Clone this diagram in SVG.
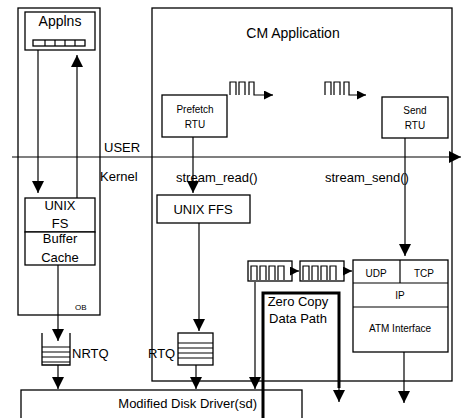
<svg xmlns="http://www.w3.org/2000/svg" width="463" height="418" viewBox="0 0 463 418">
<defs>
<style>
.b{fill:#fff;stroke:#000;stroke-width:1.3}
.n{fill:none;stroke:#000;stroke-width:1.3}
.l{fill:none;stroke:#000;stroke-width:1.2}
.k{fill:none;stroke:#000;stroke-width:3}
.t{font-family:"Liberation Sans",Arial,sans-serif;fill:#000}
</style>
<marker id="ah" viewBox="0 0 10 10" refX="10" refY="5" markerWidth="9" markerHeight="9" markerUnits="userSpaceOnUse" orient="auto">
<path d="M0,0 L10,5 L0,10 Z" fill="#000"/>
</marker>
<marker id="ahb" viewBox="0 0 10 10" refX="10" refY="5" markerWidth="12" markerHeight="12" markerUnits="userSpaceOnUse" orient="auto">
<path d="M0,0 L10,5 L0,10 Z" fill="#000"/>
</marker>
</defs>
<rect width="463" height="418" fill="#fff"/>

<g id="user-process">
<rect class="n" x="18" y="8" width="82" height="307"/>
<text class="t" x="75" y="310" font-size="8">OB</text>
</g>
<g id="applns">
<rect class="b" x="25" y="12" width="70" height="38"/>
<text class="t" x="60" y="26" font-size="14" text-anchor="middle">Applns</text>
<rect class="n" x="33" y="40" width="52" height="6"/>
<path class="l" d="M45,40 V46 M55,40 V46 M65,40 V46 M75,40 V46"/>
</g>
<g id="unix-fs">
<rect class="b" x="25" y="198" width="70" height="34"/>
<text class="t" x="60" y="210" font-size="13" text-anchor="middle">UNIX</text>
<text class="t" x="60" y="228" font-size="13" text-anchor="middle">FS</text>
</g>
<g id="buffer-cache">
<rect class="b" x="25" y="232" width="70" height="33"/>
<text class="t" x="60" y="243" font-size="13" text-anchor="middle">Buffer</text>
<text class="t" x="60" y="262" font-size="13" text-anchor="middle">Cache</text>
</g>

<g id="cm-application">
<rect class="n" x="152" y="8" width="300" height="373"/>
<text class="t" x="293" y="38" font-size="14" text-anchor="middle">CM Application</text>
</g>
<g id="prefetch-rtu">
<rect class="b" x="162" y="95" width="65" height="42"/>
<text class="t" x="195" y="113" font-size="10" text-anchor="middle">Prefetch</text>
<text class="t" x="195" y="128" font-size="10" text-anchor="middle">RTU</text>
</g>
<g id="send-rtu">
<rect class="b" x="382" y="97" width="66" height="41"/>
<text class="t" x="415" y="114" font-size="10" text-anchor="middle">Send</text>
<text class="t" x="415" y="129" font-size="10" text-anchor="middle">RTU</text>
</g>
<g id="unix-ffs">
<rect class="b" x="157" y="195" width="93" height="28"/>
<text class="t" x="203" y="214" font-size="13" text-anchor="middle">UNIX FFS</text>
</g>
<g id="protocol-stack">
<rect class="b" x="353" y="260" width="95" height="92"/>
<path class="l" d="M353,283 H448 M353,307 H448 M400,260 V283"/>
<text class="t" x="376" y="277" font-size="10" text-anchor="middle">UDP</text>
<text class="t" x="424" y="277" font-size="10" text-anchor="middle">TCP</text>
<text class="t" x="400" y="299" font-size="10" text-anchor="middle">IP</text>
<text class="t" x="400" y="332" font-size="10" text-anchor="middle">ATM Interface</text>
</g>
<g id="nrtq">
<path class="n" d="M42,333 V365 H70 V333"/>
<path class="l" d="M42,347 H70 M42,352 H70 M42,357 H70 M42,362 H70"/>
<text class="t" x="72" y="358" font-size="13">NRTQ</text>
</g>
<g id="rtq">
<rect class="n" x="178" y="333" width="35" height="32"/>
<path class="l" d="M178,343 H213 M178,348 H213 M178,353 H213 M178,358 H213"/>
<text class="t" x="148" y="358" font-size="13">RTQ</text>
</g>
<g id="disk-driver">
<rect class="b" x="21" y="390" width="281" height="32"/>
<text class="t" x="257" y="408" font-size="13" text-anchor="end">Modified Disk Driver(sd)</text>
</g>
<g id="zero-copy">
<rect class="n" x="248" y="261" width="44" height="20" stroke-width="2"/>
<path class="l" d="M251,280 V266 H257 V280 M260,280 V266 H266 V280 M269,280 V266 H275 V280 M278,280 V266 H284 V280"/>
<rect class="n" x="300" y="261" width="44" height="20" stroke-width="2"/>
<path class="l" d="M303,280 V266 H309 V280 M312,280 V266 H318 V280 M321,280 V266 H327 V280 M330,280 V266 H336 V280"/>
<text class="t" x="298" y="306" font-size="13" text-anchor="middle">Zero Copy</text>
<text class="t" x="298" y="323" font-size="13" text-anchor="middle">Data Path</text>
</g>
<g id="rtu-queues">
<path class="l" d="M230,95 V82 H236 V95 M239,95 V82 H245 V95 M249,95 V82 H254 V95 H270"/>
<path class="l" d="M325,95 V82 H331 V95 M334,95 V82 H340 V95 M344,95 V82 H349 V95 H363"/>
</g>

<g id="labels">
<text class="t" x="104" y="152" font-size="13">USER</text>
<text class="t" x="100" y="181" font-size="13">Kernel</text>
<text class="t" x="176" y="182" font-size="13">stream_read()</text>
<text class="t" x="325" y="182" font-size="13">stream_send()</text>
</g>

<g id="connectors">
<path class="l" d="M12,157 H461" marker-end="url(#ahb)"/>
<path class="l" d="M270,95 H273" marker-end="url(#ah)"/>
<path class="l" d="M363,95 H366" marker-end="url(#ah)"/>
<path class="l" d="M38,50 V193" marker-end="url(#ahb)"/>
<path class="l" d="M77,198 V55" marker-end="url(#ahb)"/>
<path class="l" d="M58,265 V341" marker-end="url(#ahb)"/>
<path class="l" d="M58,365 V389" marker-end="url(#ahb)"/>
<path class="l" d="M193,137 V193" marker-end="url(#ahb)"/>
<path class="l" d="M199,223 V331" marker-end="url(#ahb)"/>
<path class="l" d="M196,365 V389" marker-end="url(#ahb)"/>
<path class="l" d="M405,138 V256" marker-end="url(#ahb)"/>
<path class="l" d="M292,271 H299" marker-end="url(#ah)"/>
<path class="l" d="M344,271 H352" marker-end="url(#ah)"/>
<path class="l" d="M255,282 V389" marker-end="url(#ahb)"/>
<path class="k" d="M263,418 V293 H339 V388"/>
<path class="l" d="M339,385 V402" marker-end="url(#ahb)"/>
<path class="l" d="M404,352 V403" marker-end="url(#ahb)"/>
</g>
</svg>
